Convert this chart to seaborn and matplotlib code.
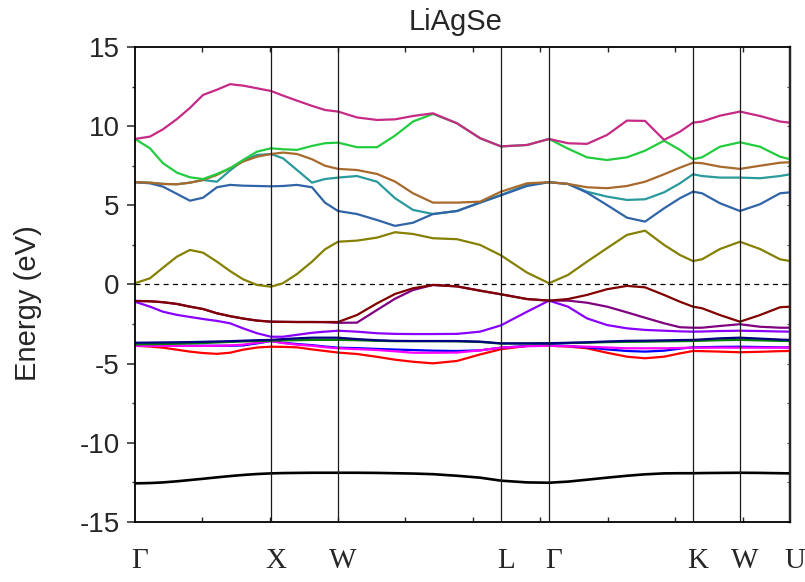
import numpy as np
import pandas as pd
import matplotlib
matplotlib.use("Agg")
import matplotlib.pyplot as plt
import matplotlib.transforms as mtransforms
from matplotlib.ticker import MultipleLocator
import seaborn as sns

# ---------------- data ----------------
k_path = [0.0, 0.111, 0.207, 0.311, 0.407, 0.504, 0.607, 0.704, 0.8, 0.904,
          1.007, 1.096, 1.2, 1.311, 1.407, 1.504, 1.644, 1.793, 1.926, 2.059,
          2.207, 2.385, 2.556, 2.711, 2.904, 3.067, 3.207, 3.348, 3.496, 3.644,
          3.778, 3.919, 4.037, 4.133, 4.2, 4.333, 4.481, 4.63, 4.778, 4.852]

sym_pos = [0.0, 1.007, 1.504, 2.711, 3.067, 4.133, 4.481, 4.852]
sym_labels = ["Γ", "X", "W", "L", "Γ", "K", "W", "U"]

band_pink = [9.19, 9.34, 9.8, 10.45, 11.15, 11.97, 12.3, 12.65, 12.56, 12.39,
             12.22, 11.93, 11.61, 11.28, 11.02, 10.92, 10.55, 10.39, 10.43, 10.64,
             10.81, 10.18, 9.24, 8.72, 8.81, 9.19, 8.92, 8.88, 9.44, 10.35,
             10.33, 9.13, 9.65, 10.22, 10.29, 10.66, 10.92, 10.64, 10.29, 10.22]
band_green = [9.19, 8.6, 7.66, 7.06, 6.77, 6.66, 6.98, 7.34, 7.86, 8.39,
              8.6, 8.54, 8.5, 8.75, 8.92, 8.96, 8.67, 8.67, 9.4, 10.29,
              10.77, 10.18, 9.24, 8.72, 8.81, 9.19, 8.58, 8.03, 7.86, 8.03,
              8.45, 9.08, 8.5, 7.91, 8.03, 8.7, 8.98, 8.7, 8.07, 7.91]
band_brown = [6.46, 6.43, 6.35, 6.33, 6.43, 6.6, 6.92, 7.34, 7.76, 8.07,
              8.24, 8.33, 8.24, 7.91, 7.5, 7.3, 7.23, 6.98, 6.5, 5.76,
              5.17, 5.17, 5.23, 5.86, 6.39, 6.46, 6.35, 6.14, 6.08, 6.22,
              6.49, 6.96, 7.38, 7.69, 7.66, 7.44, 7.3, 7.5, 7.69, 7.72]
band_teal = [6.46, 6.43, 6.35, 6.33, 6.43, 6.6, 6.49, 7.2, 7.82, 8.18,
             8.24, 7.97, 7.23, 6.43, 6.66, 6.75, 6.85, 6.49, 5.45, 4.71,
             4.45, 4.64, 5.17, 5.65, 6.29, 6.46, 6.35, 5.86, 5.55, 5.34,
             5.38, 5.82, 6.39, 6.96, 6.85, 6.75, 6.75, 6.71, 6.85, 6.96]
band_steel = [6.46, 6.39, 6.18, 5.72, 5.29, 5.48, 6.14, 6.29, 6.24, 6.22,
              6.2, 6.22, 6.29, 6.14, 5.17, 4.64, 4.45, 4.07, 3.7, 3.9,
              4.45, 4.64, 5.17, 5.63, 6.22, 6.46, 6.35, 5.8, 5.02, 4.22,
              3.97, 4.81, 5.45, 5.86, 5.76, 5.13, 4.64, 5.07, 5.76, 5.82]
band_olive = [0.08, 0.39, 1.06, 1.76, 2.18, 2.01, 1.44, 0.85, 0.33, -0.03,
              -0.14, 0.08, 0.66, 1.44, 2.22, 2.7, 2.77, 2.96, 3.3, 3.19,
              2.92, 2.86, 2.5, 1.84, 0.75, 0.08, 0.6, 1.44, 2.29, 3.13,
              3.4, 2.5, 1.86, 1.48, 1.59, 2.24, 2.7, 2.24, 1.59, 1.48]
band_darkred = [-1.04, -1.06, -1.12, -1.23, -1.4, -1.55, -1.82, -2.0, -2.15, -2.28,
                -2.35, -2.36, -2.37, -2.37, -2.37, -2.37, -1.93, -1.19, -0.6, -0.24,
                -0.03, -0.12, -0.39, -0.62, -0.92, -1.02, -0.92, -0.66, -0.3, -0.09,
                -0.18, -0.66, -1.09, -1.4, -1.5, -1.93, -2.35, -1.93, -1.44, -1.4]
band_purple = [-1.04, -1.06, -1.12, -1.23, -1.4, -1.55, -1.82, -2.0, -2.15, -2.28,
               -2.35, -2.36, -2.37, -2.37, -2.38, -2.42, -2.41, -1.61, -0.9, -0.35,
               -0.03, -0.12, -0.39, -0.62, -0.92, -1.02, -1.02, -1.15, -1.4, -1.76,
               -2.1, -2.45, -2.7, -2.73, -2.73, -2.62, -2.51, -2.67, -2.73, -2.73]
band_violet = [-1.09, -1.4, -1.72, -1.92, -2.05, -2.18, -2.3, -2.45, -2.77, -3.08,
               -3.3, -3.3, -3.18, -3.05, -2.98, -2.92, -2.98, -3.08, -3.12, -3.13,
               -3.13, -3.12, -2.98, -2.58, -1.72, -1.02, -1.4, -2.14, -2.56, -2.77,
               -2.87, -2.92, -2.96, -2.98, -2.97, -2.94, -2.92, -2.94, -2.97, -2.98]
band_navy = [-3.68, -3.67, -3.66, -3.65, -3.64, -3.62, -3.6, -3.58, -3.55, -3.52,
             -3.5, -3.45, -3.4, -3.36, -3.36, -3.36, -3.45, -3.52, -3.56, -3.57,
             -3.57, -3.57, -3.61, -3.72, -3.72, -3.71, -3.68, -3.65, -3.6, -3.56,
             -3.55, -3.53, -3.51, -3.5, -3.47, -3.4, -3.36, -3.42, -3.48, -3.5]
band_dkgreen = [-3.78, -3.77, -3.76, -3.74, -3.72, -3.7, -3.66, -3.63, -3.6, -3.57,
                -3.55, -3.53, -3.52, -3.5, -3.5, -3.5, -3.52, -3.56, -3.58, -3.58,
                -3.58, -3.59, -3.63, -3.73, -3.73, -3.72, -3.7, -3.68, -3.64, -3.62,
                -3.61, -3.59, -3.58, -3.57, -3.55, -3.52, -3.5, -3.53, -3.56, -3.57]
band_blue = [-3.82, -3.84, -3.86, -3.87, -3.87, -3.87, -3.87, -3.87, -3.85, -3.72,
             -3.57, -3.68, -3.76, -3.83, -3.92, -3.99, -4.02, -4.07, -4.11, -4.14,
             -4.18, -4.2, -4.16, -3.99, -3.88, -3.82, -3.88, -3.97, -4.1, -4.2,
             -4.24, -4.18, -4.05, -3.97, -3.96, -3.94, -3.93, -3.95, -3.97, -3.97]
band_magenta = [-3.88, -3.88, -3.88, -3.88, -3.88, -3.88, -3.87, -3.85, -3.8, -3.68,
                -3.57, -3.7, -3.8, -3.87, -3.96, -4.03, -4.08, -4.14, -4.22, -4.31,
                -4.31, -4.3, -4.16, -3.99, -3.9, -3.87, -3.9, -3.93, -3.98, -4.03,
                -4.03, -4.03, -4.01, -3.99, -3.99, -3.99, -3.99, -3.99, -3.99, -3.99]
band_red = [-3.87, -3.92, -3.99, -4.12, -4.24, -4.33, -4.38, -4.31, -4.12, -3.98,
            -3.93, -3.94, -3.97, -4.1, -4.2, -4.3, -4.39, -4.57, -4.75, -4.88,
            -4.98, -4.83, -4.42, -4.09, -3.88, -3.87, -3.92, -4.03, -4.31, -4.56,
            -4.66, -4.56, -4.35, -4.2, -4.21, -4.24, -4.28, -4.25, -4.21, -4.2]
band_black = [-12.56, -12.54, -12.5, -12.43, -12.35, -12.27, -12.18, -12.1, -12.03, -11.97,
              -11.93, -11.91, -11.9, -11.89, -11.89, -11.89, -11.89, -11.9, -11.92, -11.94,
              -11.98, -12.08, -12.2, -12.39, -12.5, -12.52, -12.45, -12.33, -12.2, -12.08,
              -11.99, -11.93, -11.92, -11.92, -11.91, -11.9, -11.89, -11.9, -11.92, -11.93]

# drawing order (first = bottom) and colours
band_order = ["red", "blue", "magenta", "dkgreen", "navy", "violet", "purple",
              "darkred", "olive", "teal", "steel", "brown", "green", "pink"]
band_colors = {"pink": "#C62A86", "green": "#22CC3F", "brown": "#A86A2C",
               "teal": "#2A9A9C", "steel": "#3064A8", "olive": "#858000",
               "darkred": "#800000", "purple": "#800080", "violet": "#8A00FF",
               "navy": "#000080", "dkgreen": "#008000", "blue": "#0000FF",
               "magenta": "#FF00FF", "red": "#FF0000"}
band_values = {"pink": band_pink, "green": band_green, "brown": band_brown,
               "teal": band_teal, "steel": band_steel, "olive": band_olive,
               "darkred": band_darkred, "purple": band_purple, "violet": band_violet,
               "navy": band_navy, "dkgreen": band_dkgreen, "blue": band_blue,
               "magenta": band_magenta, "red": band_red}

rows = []
for name in band_order:
    for kk, ee in zip(k_path, band_values[name]):
        rows.append({"k": kk, "E": ee, "band": name})
df = pd.DataFrame(rows)
df_black = pd.DataFrame({"k": k_path, "E": band_black})

# ---------------- plot ----------------
sns.set_style("ticks")
plt.rcParams['font.family'] = ['Liberation Sans', 'DejaVu Sans']
plt.rcParams['axes.unicode_minus'] = False

fig = plt.figure(figsize=(8.05, 5.82), dpi=100)
ax = fig.add_axes([0.1677, 0.1031, 0.8137, 0.8162])

sns.lineplot(data=df_black, x="k", y="E", color="black", linewidth=1.9,
             estimator=None, sort=False, ax=ax, zorder=2)
sns.lineplot(data=df, x="k", y="E", hue="band", hue_order=band_order,
             palette=band_colors, linewidth=1.6, estimator=None, sort=False,
             legend=False, ax=ax, zorder=2)

for p in sym_pos[1:-1]:
    ax.axvline(p, color="#1a1a1a", lw=0.9, zorder=3)
ax.axhline(0, color="black", lw=0.9, ls=(0, (4, 3.5)), zorder=1)

ax.set_xlim(sym_pos[0], sym_pos[-1])
ax.set_ylim(-15, 15)

# y axis
ax.yaxis.set_major_locator(MultipleLocator(5))
ax.yaxis.set_minor_locator(MultipleLocator(2.5))
ax.tick_params(axis="y", which="major", direction="out", length=6, width=1.1,
               labelsize=20, pad=5, left=True, right=False)
ax.tick_params(axis="y", which="minor", direction="out", length=2.5, width=1.0,
               left=True, right=False)

sec = ax.secondary_yaxis("right")
sec.yaxis.set_major_locator(MultipleLocator(2.5))
sec.tick_params(axis="y", which="major", direction="in", length=2.5, width=0.8,
                labelright=False, colors="#555555")
sec.spines["right"].set_linewidth(1.6)
sec.spines["right"].set_color("black")

# x axis
ax.set_xticks(sym_pos)
ax.set_xticklabels(sym_labels, fontsize=21, family=["Liberation Serif", "DejaVu Serif"])
ax.xaxis.set_minor_locator(MultipleLocator(0.5))
ax.tick_params(axis="x", which="major", length=0, pad=19)
ax.tick_params(axis="x", which="minor", direction="in", length=3.5, width=1.0,
               top=True, bottom=True)
offset = mtransforms.ScaledTranslation(5 / 100, 0, fig.dpi_scale_trans)
for lab in ax.get_xticklabels():
    lab.set_transform(lab.get_transform() + offset)

for side in ["left", "bottom", "top"]:
    ax.spines[side].set_linewidth(1.3)
    ax.spines[side].set_color("black")
ax.spines["right"].set_linewidth(1.6)

ax.set_xlabel("")
ax.set_ylabel("Energy (eV)", fontsize=21)
ax.yaxis.set_label_coords(-0.142, 0.46)
ax.set_title("LiAgSe", fontsize=21, pad=12, x=0.489)

fig.savefig("out.png", dpi=100)
